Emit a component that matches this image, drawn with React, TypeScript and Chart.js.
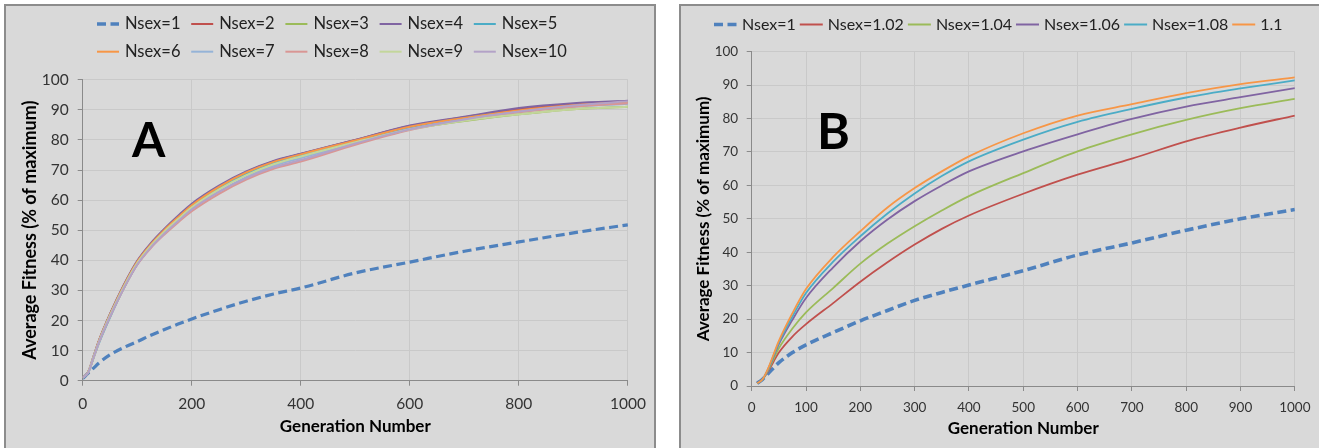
import React, { useEffect, useRef } from "react";
import { Chart, registerables } from "chart.js";

Chart.register(...registerables);

// ---------------- Panel A data ----------------
const GEN_A = [0, 10, 20, 30, 50, 75, 100, 125, 150, 175, 200, 250, 300, 350, 400, 500, 600, 700, 800, 900, 1000];
const A_NSEX1 = [0.7, 2.5, 4.2, 5.9, 8.6, 11.0, 13.0, 15.1, 17.0, 18.8, 20.5, 23.6, 26.4, 28.8, 30.8, 35.8, 39.4, 43.0, 46.1, 49.1, 51.8];
const A_NSEX2 = [1, 2.8, 8.0, 13.3, 22.0, 31.5, 39.6, 45.4, 50.1, 54.4, 58.4, 64.5, 69.3, 72.8, 75.3, 80.0, 84.6, 87.5, 90.2, 91.8, 92.5];
const A_NSEX3 = [1, 2.8, 8.0, 13.2, 21.8, 31.2, 39.3, 45.1, 49.8, 54.0, 58.0, 64.1, 68.6, 72.2, 74.8, 79.3, 83.6, 86.3, 88.5, 90.2, 91.0];
const A_NSEX4 = [1, 2.9, 8.2, 13.5, 22.2, 31.7, 39.8, 45.7, 50.5, 54.8, 58.8, 64.8, 69.5, 73.0, 75.4, 80.0, 84.8, 87.7, 90.6, 92.2, 93.0];
const A_NSEX5 = [1, 2.6, 7.6, 12.6, 21.0, 30.5, 38.6, 44.5, 49.3, 53.6, 57.6, 63.8, 68.6, 72.2, 74.8, 79.6, 84.2, 87.2, 89.6, 91.2, 92.2];
const A_NSEX6 = [1, 2.8, 8.0, 13.3, 21.9, 31.4, 39.5, 45.3, 50.1, 54.3, 58.3, 64.4, 69.2, 72.7, 75.2, 79.8, 84.4, 87.3, 89.8, 91.5, 92.6];
const A_NSEX7 = [1, 2.7, 7.8, 12.9, 21.4, 30.8, 38.8, 44.5, 49.1, 53.1, 56.9, 62.8, 67.6, 71.4, 74.0, 79.0, 83.6, 86.8, 89.3, 91.0, 92.0];
const A_NSEX8 = [1, 2.7, 7.7, 12.8, 21.2, 30.5, 38.5, 44.1, 48.6, 52.6, 56.3, 62.1, 66.8, 70.4, 72.8, 78.4, 83.3, 86.6, 89.2, 91.0, 92.2];
const A_NSEX9 = [1, 2.8, 7.9, 13.1, 21.7, 31.1, 39.1, 44.9, 49.6, 53.7, 57.6, 63.6, 68.3, 71.9, 74.5, 79.2, 83.5, 86.4, 88.5, 90.2, 91.0];
const A_NSEX10 = [1, 2.7, 7.8, 12.9, 21.3, 30.6, 38.6, 44.3, 48.9, 53.0, 56.9, 62.7, 67.3, 70.9, 73.3, 78.8, 83.5, 86.8, 89.4, 91.4, 92.8];
const A_LABELS = ["Nsex=1", "Nsex=2", "Nsex=3", "Nsex=4", "Nsex=5", "Nsex=6", "Nsex=7", "Nsex=8", "Nsex=9", "Nsex=10"];
const A_COLORS = ["#4F81BD", "#C0504D", "#9BBB59", "#8064A2", "#4BACC6", "#F79646", "#95B3D7", "#D99694", "#C3D69B", "#B3A2C7"];
const A_SERIES = [A_NSEX1, A_NSEX2, A_NSEX3, A_NSEX4, A_NSEX5, A_NSEX6, A_NSEX7, A_NSEX8, A_NSEX9, A_NSEX10];

// ---------------- Panel B data ----------------
const GEN_B = [10, 20, 30, 50, 75, 100, 150, 200, 250, 300, 350, 400, 500, 600, 700, 800, 900, 1000];
const B_NSEX1 = [0.8, 2.0, 3.7, 7.0, 10.0, 12.3, 16.0, 19.5, 22.6, 25.6, 28.0, 30.2, 34.5, 39.2, 42.8, 46.6, 50.0, 52.8];
const B_NSEX102 = [0.8, 2.0, 4.3, 10.0, 14.8, 18.5, 24.8, 31.2, 37.0, 42.3, 47.0, 51.0, 57.5, 63.2, 68.0, 73.2, 77.3, 80.9];
const B_NSEX104 = [0.8, 2.0, 4.6, 11.3, 17.2, 22.0, 29.3, 36.6, 42.6, 47.8, 52.5, 56.8, 63.7, 70.2, 75.3, 79.6, 83.1, 85.9];
const B_NSEX106 = [0.8, 2.0, 4.9, 12.5, 19.8, 26.3, 35.5, 43.3, 49.8, 55.3, 60.0, 64.2, 70.2, 75.3, 79.9, 83.6, 86.4, 89.1];
const B_NSEX108 = [0.8, 2.0, 5.0, 13.0, 20.8, 27.8, 37.2, 44.8, 51.6, 57.6, 62.8, 67.2, 73.7, 79.0, 82.9, 86.3, 89.0, 91.4];
const B_NSEX110 = [0.8, 2.0, 5.2, 13.5, 21.8, 29.0, 38.6, 46.3, 53.4, 59.2, 64.2, 68.7, 75.6, 80.9, 84.3, 87.6, 90.3, 92.3];
const B_LABELS = ["Nsex=1", "Nsex=1.02", "Nsex=1.04", "Nsex=1.06", "Nsex=1.08", "1.1"];
const B_COLORS = ["#4F81BD", "#C0504D", "#9BBB59", "#8064A2", "#4BACC6", "#F79646"];
const B_SERIES = [B_NSEX1, B_NSEX102, B_NSEX104, B_NSEX106, B_NSEX108, B_NSEX110];

const Y_TITLE = "Average Fitness (% of maximum)";
const X_TITLE = "Generation Number";
const FONT = "Lato, 'Open Sans', sans-serif";

// Overlay plugin: Excel-like legend and panel letter
const overlayPlugin = {
  id: "overlay",
  afterDraw(chart: any, _args: any, opts: any) {
    const ctx = chart.ctx as CanvasRenderingContext2D;
    ctx.save();
    ctx.fillStyle = "#000";
    ctx.font = `bold ${opts.letterSize}px ${FONT}`;
    ctx.textAlign = "left";
    ctx.textBaseline = "alphabetic";
    ctx.fillText(opts.letter, opts.letterX, opts.letterY);

    ctx.font = `${opts.legendSize}px ${FONT}`;
    ctx.textBaseline = "middle";
    let flowX = opts.startX;
    chart.data.datasets.forEach((ds: any, i: number) => {
      let x: number, y: number;
      if (opts.mode === "grid") {
        const col = i % opts.perRow;
        const row = Math.floor(i / opts.perRow);
        x = opts.startX + col * opts.colWidth;
        y = opts.rows[row];
      } else {
        x = flowX;
        y = opts.rows[0];
      }
      const dashed = ds.borderDash && ds.borderDash.length > 0;
      ctx.beginPath();
      ctx.strokeStyle = ds.borderColor;
      ctx.lineWidth = dashed ? 3.5 : 2;
      ctx.setLineDash(dashed ? [9, 4.5] : []);
      ctx.lineCap = "butt";
      ctx.moveTo(x, y);
      ctx.lineTo(x + opts.lineLen, y);
      ctx.stroke();
      ctx.setLineDash([]);
      ctx.fillStyle = "#222";
      const tx = x + opts.lineLen + opts.textGap;
      ctx.fillText(ds.label, tx, y);
      flowX = tx + ctx.measureText(ds.label).width + opts.itemGap;
    });
    ctx.restore();
  },
};

function makeConfig(p: any) {
  const datasets = p.series.map((vals: number[], i: number) => ({
    label: p.labels[i],
    data: vals.map((v, j) => ({ x: p.gens[j], y: v })),
    borderColor: p.colors[i],
    backgroundColor: p.colors[i],
    borderWidth: i === 0 ? p.dashWidth : p.lineWidth,
    borderDash: i === 0 ? [9, 4.5] : [],
    borderCapStyle: "butt",
    pointRadius: 0,
    pointHoverRadius: 0,
    fill: false,
    cubicInterpolationMode: "monotone",
    order: p.series.length - i,
  }));
  return {
    type: "line",
    data: { datasets },
    plugins: [overlayPlugin],
    options: {
      animation: false,
      responsive: false,
      events: [],
      layout: { padding: { top: p.padTop, right: p.padRight, left: 0, bottom: 0 } },
      plugins: {
        legend: { display: false },
        tooltip: { enabled: false },
        title: { display: false },
        overlay: p.overlay,
      },
      scales: {
        x: {
          type: "linear",
          min: 0,
          max: 1000,
          afterFit: (s: any) => {
            s.height = p.xAxisHeight;
          },
          ticks: {
            stepSize: p.xStep,
            color: "#333",
            padding: p.tickPad,
            maxRotation: 0,
            font: { family: FONT, size: p.tickSize },
            callback: (v: any) => String(v),
          },
          grid: { color: "#c9c9c9", tickLength: 5, tickColor: "#8a8a8a", lineWidth: 1 },
          border: { color: "#8a8a8a", width: 1 },
          title: {
            display: true,
            text: X_TITLE,
            color: "#000",
            font: { family: FONT, size: p.xTitleSize, weight: "bold" },
            padding: { top: 0, bottom: p.xTitlePad },
          },
        },
        y: {
          type: "linear",
          min: 0,
          max: 100,
          afterFit: (s: any) => {
            s.width = p.yAxisWidth;
          },
          ticks: {
            stepSize: 10,
            color: "#333",
            padding: p.tickPad,
            font: { family: FONT, size: p.tickSize },
            callback: (v: any) => String(v),
          },
          grid: { color: "#c9c9c9", tickLength: 5, tickColor: "#8a8a8a", lineWidth: 1 },
          border: { color: "#8a8a8a", width: 1 },
          title: {
            display: true,
            text: Y_TITLE,
            color: "#000",
            font: { family: FONT, size: p.yTitleSize, weight: "bold" },
            padding: { top: p.yTitlePad, bottom: 0 },
          },
        },
      },
    },
  } as any;
}

const PANEL_A = {
  gens: GEN_A,
  series: A_SERIES,
  labels: A_LABELS,
  colors: A_COLORS,
  lineWidth: 2,
  dashWidth: 3.2,
  padTop: 79.7,
  padRight: 32.1,
  xAxisHeight: 67.3,
  yAxisWidth: 82.7,
  xStep: 200,
  tickSize: 15.5,
  tickPad: 9,
  xTitleSize: 17,
  yTitleSize: 18,
  xTitlePad: 10.8,
  yTitlePad: 19.2,
  overlay: {
    letter: "A",
    letterX: 132,
    letterY: 157,
    letterSize: 48,
    legendSize: 16.5,
    mode: "grid",
    perRow: 5,
    colWidth: 94.2,
    startX: 97,
    rows: [24, 51.7],
    lineLen: 22,
    textGap: 6,
    itemGap: 0,
  },
};

const PANEL_B = {
  gens: GEN_B,
  series: B_SERIES,
  labels: B_LABELS,
  colors: B_COLORS,
  lineWidth: 1.8,
  dashWidth: 3.6,
  padTop: 51.7,
  padRight: 24,
  xAxisHeight: 62,
  yAxisWidth: 91.7,
  xStep: 100,
  tickSize: 13.5,
  tickPad: 8.5,
  xTitleSize: 17,
  yTitleSize: 17,
  xTitlePad: 8.8,
  yTitlePad: 33.8,
  overlay: {
    letter: "B",
    letterX: 157,
    letterY: 149,
    letterSize: 50,
    legendSize: 16,
    mode: "flow",
    perRow: 6,
    colWidth: 0,
    startX: 54,
    rows: [24.5],
    lineLen: 23,
    textGap: 5,
    itemGap: 4,
  },
};

function ChartCanvas({ panel, left, width }: { panel: any; left: number; width: number }) {
  const ref = useRef<HTMLCanvasElement | null>(null);
  useEffect(() => {
    if (!ref.current) return;
    const chart = new Chart(ref.current, makeConfig(panel));
    return () => chart.destroy();
  }, [panel]);
  return (
    <canvas
      ref={ref}
      width={width}
      height={448}
      style={{ position: "absolute", left, top: 0, width, height: 448 }}
    />
  );
}

export default function App() {
  return (
    <div
      style={{
        position: "absolute",
        left: 0,
        top: 0,
        width: 1319,
        height: 448,
        overflow: "hidden",
        background: "#fff",
      }}
    >
      <div
        style={{
          position: "absolute",
          left: 4,
          top: 4,
          width: 652,
          height: 470,
          boxSizing: "border-box",
          border: "2px solid #8c8c8c",
          background: "#d9d9d9",
        }}
      />
      <div
        style={{
          position: "absolute",
          left: 679,
          top: 4,
          width: 700,
          height: 470,
          boxSizing: "border-box",
          border: "2px solid #8c8c8c",
          background: "#d9d9d9",
        }}
      />
      <ChartCanvas panel={PANEL_A} left={0} width={660} />
      <ChartCanvas panel={PANEL_B} left={660} width={659} />
    </div>
  );
}
